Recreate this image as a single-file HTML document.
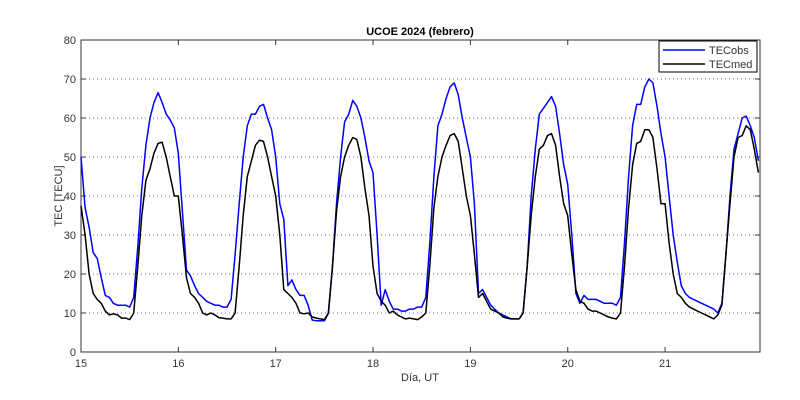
<!DOCTYPE html>
<html><head><meta charset="utf-8"><style>
body{margin:0;background:#fff;}
svg{display:block;font-family:"Liberation Sans",sans-serif;}
</style></head><body>
<svg id="chart" width="800" height="400" xmlns="http://www.w3.org/2000/svg">
<rect width="800" height="400" fill="#fff"/>
<text x="420" y="35" text-anchor="middle" font-size="11" font-weight="bold">UCOE 2024 (febrero)</text>
<text x="420" y="381" text-anchor="middle" font-size="11" fill="#333">Día, UT</text>
<text transform="translate(62,196) rotate(-90)" text-anchor="middle" font-size="11" fill="#333">TEC [TECU]</text>
<g id="grid"></g><g id="axes"></g><g id="series"></g>
<g>
<rect x="659" y="41" width="98" height="31" fill="#fff" stroke="#000" stroke-width="1"/>
<line x1="663" y1="50" x2="705" y2="50" stroke="#0000ff" stroke-width="1.5"/>
<text x="709" y="54" font-size="11" fill="#333">TECobs</text>
<line x1="663" y1="64" x2="705" y2="64" stroke="#000" stroke-width="1.5"/>
<text x="709" y="68" font-size="11" fill="#333">TECmed</text>
</g>
</svg>
<script>
const xTicks=[15,16,17,18,19,20,21];
const yTicks=[0,10,20,30,40,50,60,70,80];
const startDay=15;
const tecObs=[
50,37,32,25.5,24,19,14.5,14,12.5,12,12,12,11.5,14,27,42,53,60,64,66.5,64,61,59.5,57.5,
51,36,21,19.5,17,15,14,13,12.5,12,12,11.5,11.5,13.5,25,38,50,58,61,61,63,63.5,60,57,
50,38,34,17,18.5,16,14.5,14.5,12,8.2,8,8,8,10,22,38,50,59,61,64.5,63,60,55,49,
46,30,12,16,13,11,11,10.5,10.5,11,11,11.5,11.5,14,28,45,58,61,65,68,69,66,60,55,
50,38,15,16,14,12,11,10,9.5,9,8.5,8.5,8.5,10,22,40,52,61,62.5,64,65.5,63,56,48,
43,30,15,12.5,14.5,13.5,13.5,13.5,13,12.5,12.5,12.5,12,14,28,45,58,63.5,63.5,68,70,69,63,56,
50,40,30,23,17,15,14,13.5,13,12.5,12,11.5,11,10,12.5,25,40,52,56,60,60.5,58,55,49];
const tecMed=[
37.5,30,20,15,13.5,12.5,10.5,9.5,9.8,9.5,8.7,8.7,8.3,10,22,35,44,47,51,53.5,53.8,50,45,40,
40,30,19,15,14,12.5,10,9.5,10,9.5,8.8,8.7,8.5,8.5,10,22,35,45,49,53,54.3,54,50,45,
40,30,16,15,14,12.5,10,9.8,10,9,8.7,8.5,8.3,10,22,36,45,50,53,55,54.5,50,42,35,
22,15,13,12,10,10.5,9.5,9,8.5,8.7,8.5,8.3,9,10,22,37,45,50,53,55.5,56,54,47,40,
35,25,14,15,13,11,10.5,10,9,8.7,8.5,8.5,8.5,10,22,35,45,52,53,55.5,56,53,45,38,
35,25,16,13,12.5,11,10.5,10.5,10,9.5,9,8.7,8.5,10,22,37,48,53.5,54,57,57,55,47,38,
38,28,20,15,14,12.5,11.5,11,10.5,10,9.5,9,8.5,9.5,12,25,38,50,55,55.5,58,57,52,46];
const L=81,R=760,T=40,B=352,xmin=15,xmax=21.975,ymin=0,ymax=80;
const sx=v=>L+(v-xmin)/(xmax-xmin)*(R-L);
const sy=v=>B-(v-ymin)/(ymax-ymin)*(B-T);
const NS="http://www.w3.org/2000/svg";
function mk(t,a,p){const e=document.createElementNS(NS,t);for(const k in a)e.setAttribute(k,a[k]);p.appendChild(e);return e;}
const grid=document.getElementById('grid'),axes=document.getElementById('axes'),ser=document.getElementById('series');
yTicks.forEach(v=>{
 if(v>ymin&&v<ymax){const g=mk('line',{x1:L,x2:R,y1:sy(v),y2:sy(v),stroke:'#777','stroke-width':1,'stroke-dasharray':'1,3'},grid);
 
 }
 const t=mk('text',{x:L-5,y:sy(v)+4,'text-anchor':'end','font-size':11,fill:'#333'},axes);t.textContent=v;
 
 
 mk('line',{x1:L,x2:L+5,y1:sy(v),y2:sy(v),stroke:'#333'},axes);
 mk('line',{x1:R,x2:R-5,y1:sy(v),y2:sy(v),stroke:'#333'},axes);
});
xTicks.forEach(v=>{
 const t=mk('text',{x:sx(v),y:B+15,'text-anchor':'middle','font-size':11,fill:'#333'},axes);t.textContent=v;
 
 
 mk('line',{x1:sx(v),x2:sx(v),y1:B,y2:B-5,stroke:'#333'},axes);
 mk('line',{x1:sx(v),x2:sx(v),y1:T,y2:T+5,stroke:'#333'},axes);
});
const box=mk('rect',{x:L,y:T,width:R-L,height:B-T,fill:'none',stroke:'#333','stroke-width':1},axes);


function line(arr,col,name){
 const pts=arr.map((v,i)=>sx(startDay+i/24).toFixed(1)+','+sy(v).toFixed(1)).join(' ');
 const p=mk('polyline',{points:pts,fill:'none',stroke:col,'stroke-width':1.5,'stroke-linejoin':'round'},ser);
 
 
}
line(tecObs,'#0000ff','tecobs-line');
line(tecMed,'#000','tecmed-line');
</script>
</body></html>
